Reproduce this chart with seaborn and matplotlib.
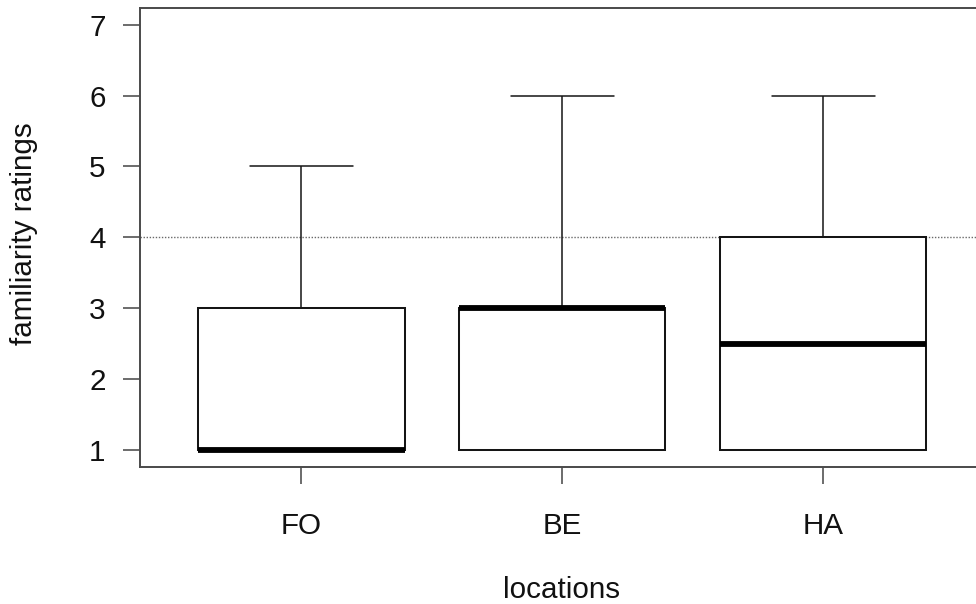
import matplotlib
matplotlib.use("Agg")
import matplotlib.pyplot as plt
import seaborn as sns
import pandas as pd

# ---- data ----
locations = ["FO", "BE", "HA"]
fo_ratings = [1, 1, 1, 1, 1, 3, 3, 5]
be_ratings = [1, 1, 1, 3, 3, 3, 3, 6]
ha_ratings = [1, 1, 1, 2, 3, 4, 4, 6]
y_ticks = [1, 2, 3, 4, 5, 6, 7]
reference_level = 4

df = pd.DataFrame({
    "location": ["FO"] * len(fo_ratings) + ["BE"] * len(be_ratings) + ["HA"] * len(ha_ratings),
    "rating": fo_ratings + be_ratings + ha_ratings,
})

sns.set_style("white")
plt.rcParams["font.family"] = ["Liberation Sans", "DejaVu Sans"]

W, H = 976, 604
fig = plt.figure(figsize=(W / 100, H / 100), dpi=100)
left, right, top, bottom = 140, 985, 7.5, 466.5
ax = fig.add_axes([left / W, (H - bottom) / H, (right - left) / W, (bottom - top) / H])

ax.axhline(reference_level, color="#6a6a6a", lw=1.0, ls=(0, (1, 1.2)), zorder=0)

box_col = "#151515"
sns.boxplot(
    data=df, x="location", y="rating", order=locations, ax=ax,
    color="white", saturation=1, linecolor=box_col, linewidth=1.1,
    width=0.79, whis=1.5, fliersize=0,
    boxprops=dict(linewidth=1.45, edgecolor=box_col, facecolor="white"),
    medianprops=dict(linewidth=4.2, color="black"),
    whiskerprops=dict(linewidth=1.1, color=box_col),
    capprops=dict(linewidth=1.1, color=box_col),
    zorder=2,
)

ax.set_xlim(-0.619, 2.62)
ax.set_ylim(0.764, 7.245)
ax.set_yticks(y_ticks)
ax.set_yticklabels([str(t) for t in y_ticks])

fs = 21.3
ax.tick_params(axis="both", direction="out", length=12.2, width=1.1, color="#444444",
               labelsize=fs, labelcolor="#111111", left=True, bottom=True)
ax.tick_params(axis="y", pad=12.5)
ax.tick_params(axis="x", pad=20.5)

for s in ax.spines.values():
    s.set_visible(True)
    s.set_color("#4a4a4a")
    s.set_linewidth(1.4)

ax.set_xlabel("")
ax.set_ylabel("")
fig.text(24.5 / W, 1 - 234 / H, "familiarity ratings", rotation=90, ha="center", va="center",
         fontsize=fs, color="#111111")
fig.text(562 / W, 0.5 / H, "locations", ha="center", va="bottom", fontsize=fs, color="#111111")

fig.savefig("out.png", dpi=100, facecolor="white")
